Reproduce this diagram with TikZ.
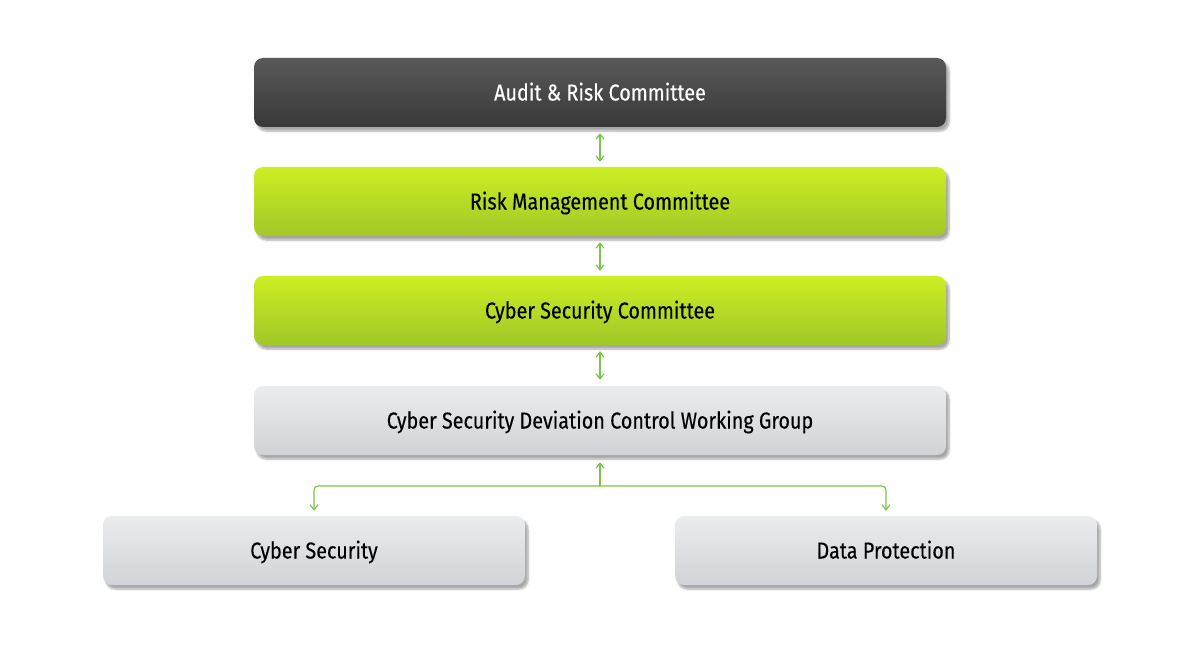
\documentclass[tikz,border=0pt]{standalone}
\usepackage{fontspec}
\setmainfont{Fira Sans}[FakeStretch=0.86]
\usetikzlibrary{shadows.blur,arrows.meta}
\definecolor{lg}{HTML}{7CC444}
\tikzset{
 box/.style={rounded corners=9pt, minimum height=69pt, inner sep=0pt, text height=20pt, text depth=4pt, font=\fontsize{23}{26}\selectfont\addfontfeature{FakeBold=0.3},
   blur shadow={shadow xshift=3pt, shadow yshift=-4pt, shadow blur steps=6, shadow opacity=35}},
 dark/.style={box, top color=black!65, bottom color=black!78, text=white},
 green/.style={box, top color={rgb,255:red,205;green,238;blue,35}, bottom color={rgb,255:red,160;green,200;blue,40}, text=black},
 grey/.style={box, top color={rgb,255:red,235;green,236;blue,238}, bottom color={rgb,255:red,208;green,211;blue,215}, text=black},
 conn/.style={draw=lg, line width=1.2pt, -{Straight Barb[length=5pt,width=8pt]}},
 dconn/.style={conn, {Straight Barb[length=5pt,width=8pt]}-{Straight Barb[length=5pt,width=8pt]}}
}
\begin{document}
\begin{tikzpicture}[x=1pt,y=-1pt]
\useasboundingbox (0,0) rectangle (1200,650);
\node[dark, minimum width=692pt] (a) at (600,92.5) {Audit \& Risk Committee};
\node[green, minimum width=692pt] (r) at (600,201.5) {Risk Management Committee};
\node[green, minimum width=692pt] (c) at (600,310.5) {Cyber Security Committee};
\node[grey, minimum width=692pt] (w) at (600,420.5) {Cyber Security Deviation Control Working Group};
\node[grey, minimum width=422pt] (l) at (314,550.5) {Cyber Security};
\node[grey, minimum width=422pt] (d) at (886,550.5) {Data Protection};
\draw[dconn] ([yshift=-6pt]a.south) -- ([yshift=5pt]r.north);
\draw[dconn] ([yshift=-6pt]r.south) -- ([yshift=5pt]c.north);
\draw[dconn] ([yshift=-6pt]c.south) -- ([yshift=6pt]w.north);
\coordinate (j) at (600,486);
\draw[conn] (j) -- ([yshift=-7pt]w.south);
\draw[conn, rounded corners=4pt] (j) -| ([yshift=5pt]l.north);
\draw[conn, rounded corners=4pt] (j) -| ([yshift=5pt]d.north);
\end{tikzpicture}
\end{document}
